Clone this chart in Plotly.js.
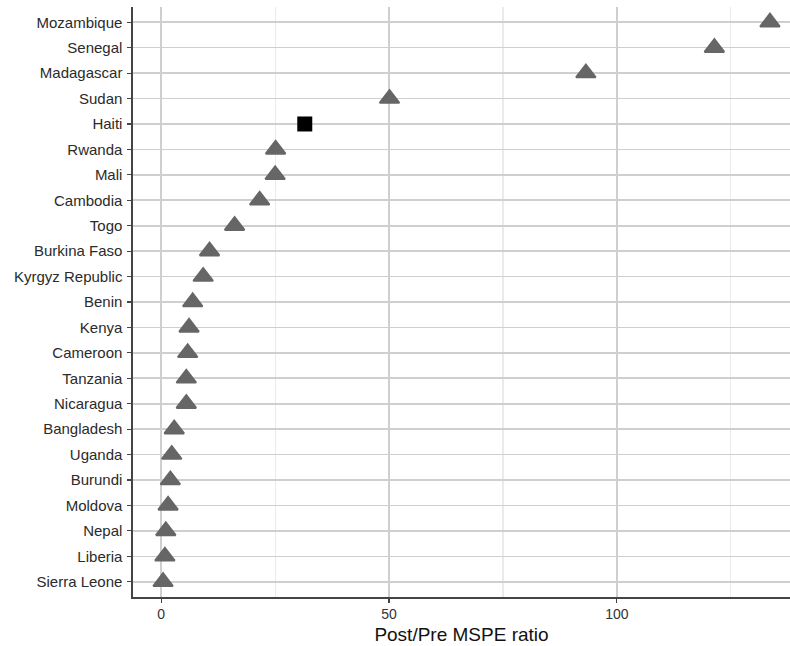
<!DOCTYPE html>
<html>
<head>
<meta charset="utf-8">
<script src="https://cdn.plot.ly/plotly-3.0.1.min.js"></script>
<style>
  html, body { margin: 0; padding: 0; background: #ffffff; }
  #chart { width: 790px; height: 646px; }
</style>
</head>
<body>
<div id="chart"></div>
<script>
// Countries, top to bottom
const countries = [
  "Mozambique", "Senegal", "Madagascar", "Sudan", "Haiti", "Rwanda", "Mali",
  "Cambodia", "Togo", "Burkina Faso", "Kyrgyz Republic", "Benin", "Kenya",
  "Cameroon", "Tanzania", "Nicaragua", "Bangladesh", "Uganda", "Burundi",
  "Moldova", "Nepal", "Liberia", "Sierra Leone"
];

// Post/Pre MSPE ratio per country (same order)
const ratios = [
  133.6, 121.4, 93.2, 50.1, 31.5, 25.1, 25.0,
  21.6, 16.1, 10.6, 9.2, 6.9, 6.1,
  5.8, 5.5, 5.5, 2.85, 2.3, 2.0,
  1.5, 1.0, 0.8, 0.4
];

// Treated unit
const treated = "Haiti";

const donorY = [], donorX = [], treatY = [], treatX = [];
countries.forEach((c, i) => {
  if (c === treated) { treatY.push(c); treatX.push(ratios[i]); }
  else { donorY.push(c); donorX.push(ratios[i]); }
});

const traces = [
  {
    type: "scatter", mode: "markers",
    x: donorX, y: donorY,
    marker: { symbol: "triangle-up", size: 17, color: "#666666",
              line: { color: "#666666", width: 2 } },
    hoverinfo: "x+y", showlegend: false
  },
  {
    type: "scatter", mode: "markers",
    x: treatX, y: treatY,
    marker: { symbol: "square", size: 15, color: "#000000",
              line: { width: 0 } },
    hoverinfo: "x+y", showlegend: false
  }
];

const layout = {
  width: 790, height: 646,
  margin: { l: 133, r: 0, t: 7, b: 49 },
  paper_bgcolor: "#ffffff", plot_bgcolor: "#ffffff",
  font: { family: "Liberation Sans, Arial, sans-serif", color: "#333333" },
  showlegend: false,
  xaxis: {
    range: [-6.2, 138.0],
    tickvals: [0, 50, 100],
    ticktext: ["0", "50", "100"],
    showgrid: true, gridcolor: "#cfcfcf", gridwidth: 1.6,
    minor: { tickvals: [25, 75, 125], showgrid: true, gridcolor: "#ebebeb", gridwidth: 1.1, ticks: "" },
    zeroline: false,
    showline: true, linecolor: "#444444", linewidth: 1.6,
    ticks: "outside", ticklen: 4, tickcolor: "#444444", tickwidth: 1.2,
    tickfont: { size: 14, color: "#333333" },
    title: { text: "Post/Pre MSPE ratio", font: { size: 19, color: "#111111" }, standoff: 6 }
  },
  yaxis: {
    type: "category",
    categoryorder: "array", categoryarray: countries,
    range: [countries.length - 1 + 0.6, -0.6],
    showgrid: true, gridcolor: "#cfcfcf", gridwidth: 1.6,
    zeroline: false,
    showline: true, linecolor: "#444444", linewidth: 1.6,
    ticks: "outside", ticklen: 4, tickcolor: "#444444", tickwidth: 1.2,
    ticklabelstandoff: 2,
    tickfont: { size: 15, color: "#2b2b2b" }
  }
};

Plotly.newPlot("chart", traces, layout, { displayModeBar: false, staticPlot: true });
</script>
</body>
</html>
